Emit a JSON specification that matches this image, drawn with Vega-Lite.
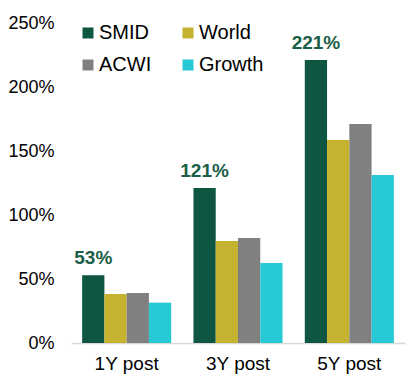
{
  "$schema": "https://vega.github.io/schema/vega-lite/v6.json",
  "width": 334,
  "height": 320,
  "autosize": {"type": "none"},
  "padding": {"left": 71, "top": 23, "right": 4, "bottom": 36},
  "config": {"view": {"stroke": null}, "font": "Liberation Sans"},
  "data": {
    "values": [
      {"period": "1Y post", "series": "SMID", "value": 0.53},
      {"period": "1Y post", "series": "World", "value": 0.383},
      {"period": "1Y post", "series": "ACWI", "value": 0.391},
      {"period": "1Y post", "series": "Growth", "value": 0.315},
      {"period": "3Y post", "series": "SMID", "value": 1.21},
      {"period": "3Y post", "series": "World", "value": 0.797},
      {"period": "3Y post", "series": "ACWI", "value": 0.82},
      {"period": "3Y post", "series": "Growth", "value": 0.625},
      {"period": "5Y post", "series": "SMID", "value": 2.21},
      {"period": "5Y post", "series": "World", "value": 1.586},
      {"period": "5Y post", "series": "ACWI", "value": 1.711},
      {"period": "5Y post", "series": "Growth", "value": 1.313}
    ]
  },
  "encoding": {
    "x": {
      "field": "period",
      "type": "nominal",
      "sort": ["1Y post", "3Y post", "5Y post"],
      "scale": {"paddingInner": 0.2, "paddingOuter": 0.1},
      "axis": {
        "title": null,
        "labelAngle": 0,
        "labelFontSize": 19,
        "labelColor": "#000000",
        "ticks": false,
        "domainColor": "#d9d9d9",
        "domainWidth": 1.5,
        "labelPadding": 11
      }
    },
    "xOffset": {
      "field": "series",
      "type": "nominal",
      "sort": ["SMID", "World", "ACWI", "Growth"],
      "scale": {"paddingInner": 0, "paddingOuter": 0}
    },
    "y": {
      "field": "value",
      "type": "quantitative",
      "scale": {"domain": [0, 2.5], "nice": false},
      "axis": {
        "title": null,
        "format": ".0%",
        "values": [0, 0.5, 1, 1.5, 2, 2.5],
        "grid": false,
        "domain": false,
        "ticks": false,
        "labelFontSize": 18,
        "labelColor": "#000000",
        "labelPadding": 17
      }
    }
  },
  "layer": [
    {
      "mark": {"type": "bar"},
      "encoding": {
        "color": {
          "field": "series",
          "type": "nominal",
          "scale": {
            "domain": ["SMID", "ACWI", "World", "Growth"],
            "range": ["#0e5641", "#808080", "#c5b22f", "#26c9d4"]
          },
          "legend": {
            "title": null,
            "orient": "none",
            "legendX": 7,
            "legendY": 0,
            "columns": 2,
            "symbolType": "square",
            "symbolSize": 121,
            "symbolStrokeWidth": 0,
            "labelFontSize": 20,
            "labelColor": "#000000",
            "labelOffset": 1,
            "columnPadding": 26,
            "rowPadding": 12
          }
        }
      }
    },
    {
      "transform": [{"filter": "datum.series === 'SMID'"}],
      "mark": {
        "type": "text",
        "baseline": "bottom",
        "dy": -7,
        "fontSize": 19,
        "fontWeight": "bold",
        "color": "#1b5e47"
      },
      "encoding": {
        "text": {"field": "value", "type": "quantitative", "format": ".0%"}
      }
    }
  ]
}
